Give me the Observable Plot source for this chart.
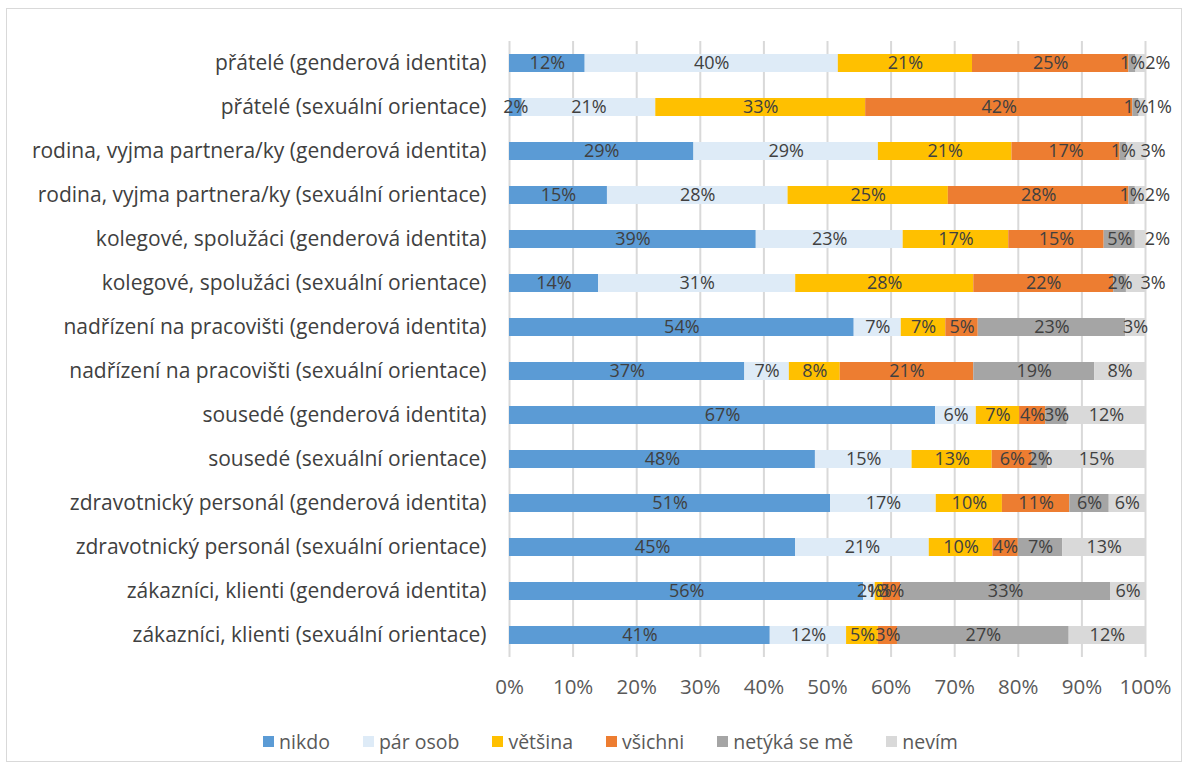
<!DOCTYPE html>
<html>
<head>
<meta charset="utf-8">
<script src="https://cdn.jsdelivr.net/npm/d3@7"></script>
<script src="https://cdn.jsdelivr.net/npm/@observablehq/plot@0.6"></script>
<style>
  html, body { margin: 0; padding: 0; background: #fff; }
  #wrap { position: relative; width: 1189px; height: 769px; font-family: "Open Sans", Lato, sans-serif; }
  #frame { position: absolute; left: 6px; top: 8px; width: 1176px; height: 754px; border: 1px solid #d9d9d9; box-sizing: border-box; }
  #chart { position: absolute; left: 0; top: 0; }
  #legend { position: absolute; left: 0; width: 1189px; top: 728px; display: flex; justify-content: center; padding-left: 32px; box-sizing: border-box; gap: 33px; font-size: 19.5px; color: #595959; }
  #legend .item { display: flex; align-items: center; gap: 5px; }
  #legend .sw { width: 11px; height: 11px; display: inline-block; }
</style>
</head>
<body>
<div id="wrap">
  <div id="frame"></div>
  <div id="chart"></div>
  <div id="legend"></div>
</div>
<script>
const rows = [
  "přátelé (genderová identita)",
  "přátelé (sexuální orientace)",
  "rodina, vyjma partnera/ky (genderová identita)",
  "rodina, vyjma partnera/ky (sexuální orientace)",
  "kolegové, spolužáci (genderová identita)",
  "kolegové, spolužáci (sexuální orientace)",
  "nadřízení na pracovišti (genderová identita)",
  "nadřízení na pracovišti (sexuální orientace)",
  "sousedé (genderová identita)",
  "sousedé (sexuální orientace)",
  "zdravotnický personál (genderová identita)",
  "zdravotnický personál (sexuální orientace)",
  "zákazníci, klienti (genderová identita)",
  "zákazníci, klienti (sexuální orientace)"
];
const seriesNames = ["nikdo", "pár osob", "většina", "všichni", "netýká se mě", "nevím"];
const nikdo   = [11.9, 2, 29, 15.4, 38.8, 14, 54.2, 37, 67.0, 48.1, 50.5, 45, 55.7, 41];
const parOsob = [39.8, 21, 29, 28.4, 23.1, 31, 7.4, 7, 6.4, 15.2, 16.6, 21, 1.8, 12];
const vetsina = [21.1, 33, 21, 25.2, 16.6, 28, 7.0, 8, 6.8, 12.6, 10.4, 10, 1.2, 5];
const vsichni = [24.6, 42, 17, 28.4, 15.0, 22, 5.1, 21, 4.1, 6.3, 10.6, 4, 2.8, 3];
const netyka  = [1.1, 1, 1, 1.0, 4.9, 2, 23.2, 19, 3.4, 2.4, 6.2, 7, 33.0, 27];
const nevim   = [1.5, 1, 3, 1.6, 1.6, 3, 3.1, 8, 12.3, 15.4, 5.7, 13, 5.5, 12];
const seriesValues = [nikdo, parOsob, vetsina, vsichni, netyka, nevim];
const seriesColors = ["#5B9BD5", "#DEEBF7", "#FFC000", "#ED7D31", "#A5A5A5", "#D9D9D9"];
const xTicks = [0, 10, 20, 30, 40, 50, 60, 70, 80, 90, 100];
// rows whose tiny last-segment label sits just past the bar end (as in the original)
const pushedLabelRows = rows.slice(0, 6);

const data = [];
rows.forEach((r, i) => {
  seriesNames.forEach((s, j) => {
    data.push({row: r, cat: s, value: seriesValues[j][i]});
  });
});

const FONT = "'Open Sans', Lato, sans-serif";
const isPushed = d => d.cat === "nevím" && pushedLabelRows.includes(d.row);
const lbl = d => Math.round(d.value) + "%";

const plot = Plot.plot({
  width: 1189,
  height: 715,
  marginLeft: 509,
  marginRight: 44,
  marginTop: 41,
  marginBottom: 58,
  style: {fontFamily: FONT, background: "transparent", overflow: "visible"},
  x: {domain: [0, 100], ticks: xTicks, tickFormat: d => d + "%", label: null},
  y: {domain: rows, label: null, paddingInner: 0.59, paddingOuter: 0.295},
  color: {domain: seriesNames, range: seriesColors},
  marks: [
    Plot.gridX(xTicks, {stroke: "#d9d9d9", strokeOpacity: 1, strokeWidth: 2}),
    Plot.barX(data, Plot.stackX({x: "value", y: "row", z: "cat", fill: "cat", order: seriesNames})),
    Plot.text(data, Plot.stackX({x: "value", y: "row", z: "cat", order: seriesNames,
      text: d => isPushed(d) ? null : lbl(d), fill: "#404040", fontSize: 18, fontFamily: FONT})),
    Plot.text(data, Plot.stackX({x: "value", y: "row", z: "cat", order: seriesNames,
      text: d => isPushed(d) ? lbl(d) : null, fill: "#404040", fontSize: 18, fontFamily: FONT, dx: 17})),
    Plot.axisX(xTicks, {tickSize: 0, tickPadding: 22, fontSize: 20.5, fill: "#595959", tickFormat: d => d + "%", fontFamily: FONT}),
    Plot.axisY({tickSize: 0, tickPadding: 23, fontSize: 21, fill: "#404040", fontFamily: FONT})
  ]
});
document.getElementById("chart").appendChild(plot);

const legend = document.getElementById("legend");
seriesNames.forEach((s, j) => {
  const item = document.createElement("div");
  item.className = "item";
  const sw = document.createElement("span");
  sw.className = "sw";
  sw.style.background = seriesColors[j];
  const t = document.createElement("span");
  t.textContent = s;
  item.appendChild(sw);
  item.appendChild(t);
  legend.appendChild(item);
});
</script>
</body>
</html>
